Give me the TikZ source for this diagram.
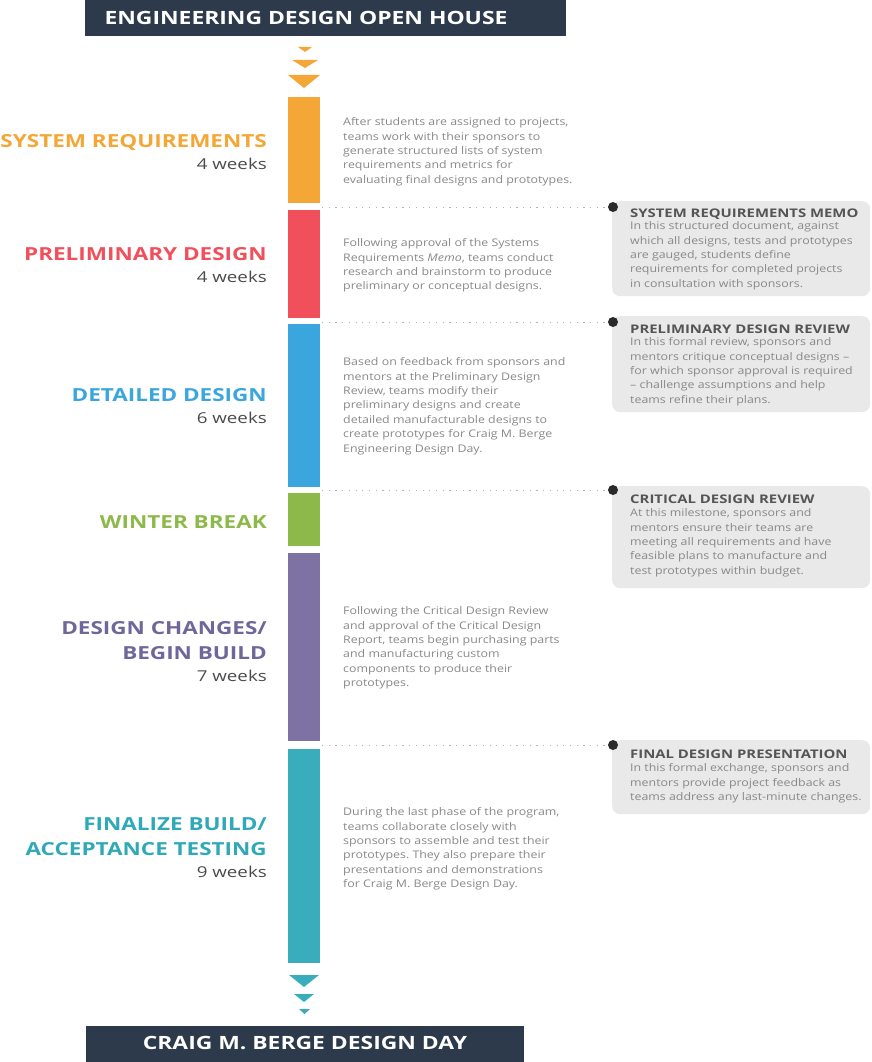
\documentclass[tikz,border=0pt]{standalone}
\usepackage{fontspec}
\setmainfont{Open Sans}
\newfontfamily\hfont{Open Sans}[FakeStretch=1.25]
\newfontfamily\bfont{Open Sans}[FakeStretch=1.18]
\definecolor{navy}{HTML}{2C3A4B}
\definecolor{cOr}{HTML}{F4A736}
\definecolor{cRd}{HTML}{F24F5C}
\definecolor{cBl}{HTML}{3AA6DD}
\definecolor{cGr}{HTML}{8DB94B}
\definecolor{cPu}{HTML}{7D72A3}
\definecolor{cTe}{HTML}{3AADBD}
\definecolor{lPu}{HTML}{6F679A}
\definecolor{lTe}{HTML}{2FA9B7}
\definecolor{txt}{HTML}{888888}
\definecolor{wk}{HTML}{4A4A4A}
\definecolor{boxbg}{HTML}{E9E9E9}
\definecolor{ttl}{HTML}{555555}
\definecolor{dotc}{HTML}{2A2A2A}
\frenchspacing
\begin{document}
\begin{tikzpicture}[x=1pt,y=-1pt,
  banner/.style={fill=navy, draw=none, inner sep=0, anchor=north west},
  bantext/.style={text=white, font=\hfont\bfseries\fontsize{18.3}{20}\selectfont, inner sep=0, anchor=base},
  bar/.style={draw=none, inner sep=0, anchor=north west, minimum width=32},
  lab/.style={font=\hfont\bfseries\fontsize{18}{20}\selectfont, inner sep=0, anchor=base east},
  weeks/.style={font=\hfont\fontsize{15}{18}\selectfont, text=wk, inner sep=0, anchor=base east},
  desc/.style={font=\bfont\fontsize{10.5}{14.4}\selectfont, text=txt, inner sep=0, anchor=north west, align=left},
  memo/.style={fill=boxbg, draw=none, rounded corners=8pt, inner sep=0, anchor=north west, minimum width=258},
  memotitle/.style={font=\hfont\bfseries\fontsize{11.9}{14}\selectfont, text=ttl, inner sep=0, anchor=base west},
  memobody/.style={font=\bfont\fontsize{10.5}{14.4}\selectfont, text=txt, inner sep=0, anchor=north west, align=left},
  dot/.style={circle, fill=dotc, inner sep=0, minimum size=10},
  dotline/.style={draw=gray!60, line width=1pt, dash pattern=on 1.2pt off 5.5pt}
]
\useasboundingbox (0,0) rectangle (872,1062);

% banners
\node[banner, minimum width=481, minimum height=36] (top) at (85,0) {};
\node[bantext] (toptxt) at (306,25) {ENGINEERING DESIGN OPEN HOUSE};
\node[banner, minimum width=438, minimum height=36] (bot) at (86,1026) {};
\node[bantext] (bottxt) at (305,1049) {CRAIG M. BERGE DESIGN DAY};

% arrows
\fill[cOr] (298,47) -- (312,47) -- (305,52) -- cycle;
\fill[cOr] (292,60) -- (318,60) -- (305,68) -- cycle;
\fill[cOr] (288,75) -- (320,75) -- (304,88) -- cycle;
\fill[cTe] (289,975) -- (319,975) -- (304,987) -- cycle;
\fill[cTe] (294,994) -- (314,994) -- (304,1002) -- cycle;
\fill[cTe] (299,1009) -- (310,1009) -- (304.5,1014) -- cycle;

% bars
\node[bar, fill=cOr, minimum height=106] (b1) at (288,97) {};
\node[bar, fill=cRd, minimum height=108] (b2) at (288,210) {};
\node[bar, fill=cBl, minimum height=163] (b3) at (288,324) {};
\node[bar, fill=cGr, minimum height=53] (b4) at (288,493) {};
\node[bar, fill=cPu, minimum height=188] (b5) at (288,553) {};
\node[bar, fill=cTe, minimum height=214] (b6) at (288,749) {};

% left labels
\node[lab, text=cOr] (l1) at (267,147) {SYSTEM REQUIREMENTS};
\node[weeks] (w1) at (267,169) {4 weeks};
\node[lab, text=cRd] (l2) at (267,260) {PRELIMINARY DESIGN};
\node[weeks] (w2) at (267,282) {4 weeks};
\node[lab, text=cBl] (l3) at (267,401) {DETAILED DESIGN};
\node[weeks] (w3) at (267,423) {6 weeks};
\node[lab, text=cGr] (l4) at (267,528) {WINTER BREAK};
\node[lab, text=lPu] (l5a) at (267,634) {DESIGN CHANGES/};
\node[lab, text=lPu] (l5b) at (267,659) {BEGIN BUILD};
\node[weeks] (w5) at (267,681) {7 weeks};
\node[lab, text=lTe] (l6a) at (267,830) {FINALIZE BUILD/};
\node[lab, text=lTe] (l6b) at (267,855) {ACCEPTANCE TESTING};
\node[weeks] (w6) at (267,877) {9 weeks};

% descriptions
\node[desc] (d1) at (343,117.5) {After students are assigned to projects,\\teams work with their sponsors to\\generate structured lists of system\\requirements and metrics for\\evaluating final designs and prototypes.};
\node[desc] (d2) at (343,238.5) {Following approval of the Systems\\Requirements \textit{Memo}, teams conduct\\research and brainstorm to produce\\preliminary or conceptual designs.};
\node[desc] (d3) at (343,357.5) {Based on feedback from sponsors and\\mentors at the Preliminary Design\\Review, teams modify their\\preliminary designs and create\\detailed manufacturable designs to\\create prototypes for Craig M. Berge\\Engineering Design Day.};
\node[desc] (d5) at (343,606.5) {Following the Critical Design Review\\and approval of the Critical Design\\Report, teams begin purchasing parts\\and manufacturing custom\\components to produce their\\prototypes.};
\node[desc] (d6) at (343,807.5) {During the last phase of the program,\\teams collaborate closely with\\sponsors to assemble and test their\\prototypes. They also prepare their\\presentations and demonstrations\\for Craig M. Berge Design Day.};

% memo boxes
\node[memo, minimum height=95] (m1) at (612,201) {};
\node[memo, minimum height=96] (m2) at (612,316) {};
\node[memo, minimum height=102] (m3) at (612,486) {};
\node[memo, minimum height=74] (m4) at (612,740) {};

\node[memotitle] (t1) at (630,217) {SYSTEM REQUIREMENTS MEMO};
\node[memobody] (x1) at (630,221.5) {In this structured document, against\\which all designs, tests and prototypes\\are gauged, students define\\requirements for completed projects\\in consultation with sponsors.};
\node[memotitle] (t2) at (630,333) {PRELIMINARY DESIGN REVIEW};
\node[memobody] (x2) at (630,337.5) {In this formal review, sponsors and\\mentors critique conceptual designs –\\for which sponsor approval is required\\– challenge assumptions and help\\teams refine their plans.};
\node[memotitle] (t3) at (630,503) {CRITICAL DESIGN REVIEW};
\node[memobody] (x3) at (630,508.5) {At this milestone, sponsors and\\mentors ensure their teams are\\meeting all requirements and have\\feasible plans to manufacture and\\test prototypes within budget.};
\node[memotitle] (t4) at (630,758) {FINAL DESIGN PRESENTATION};
\node[memobody] (x4) at (630,763.5) {In this formal exchange, sponsors and\\mentors provide project feedback as\\teams address any last-minute changes.};

% connectors
\coordinate (s1) at (322,207);
\coordinate (s2) at (322,322);
\coordinate (s3) at (322,490);
\coordinate (s4) at (322,745);
\node[dot] (p1) at (613,207) {};
\node[dot] (p2) at (613,322) {};
\node[dot] (p3) at (613,490) {};
\node[dot] (p4) at (613,745) {};
\draw[dotline] (s1) -- (p1);
\draw[dotline] (s2) -- (p2);
\draw[dotline] (s3) -- (p3);
\draw[dotline] (s4) -- (p4);
\end{tikzpicture}
\end{document}
